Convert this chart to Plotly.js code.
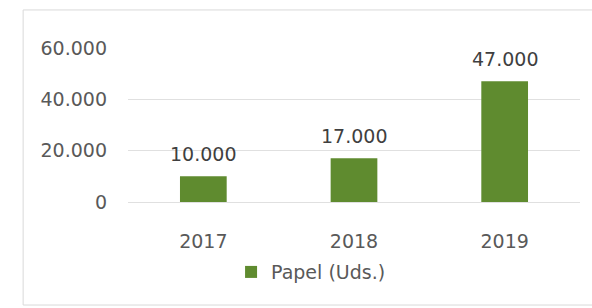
<!DOCTYPE html>
<html>
<head>
<meta charset="utf-8">
<script src="https://cdn.plot.ly/plotly-3.0.1.min.js"></script>
<style>html,body{margin:0;padding:0;background:#fff;}#chart{width:592px;height:308px;}</style>
</head>
<body>
<div id="chart"></div>
<script>
const categories = ["2017", "2018", "2019"];
const papelValues = [10000, 17000, 47000];
const seriesName = "Papel (Uds.)";
const yTickValues = [0, 20000, 40000, 60000];

function fmt(v) {
  return String(v).replace(/\B(?=(\d{3})+(?!\d))/g, ".");
}

const trace = {
  type: "bar",
  x: categories,
  y: papelValues,
  name: seriesName,
  marker: { color: "#5f8b2f" },
  hoverinfo: "none",
  showlegend: true
};

const labelAnnotations = [];
for (let i = 0; i < categories.length; i++) {
  labelAnnotations.push({
    x: i,
    y: papelValues[i],
    xref: "x",
    yref: "y",
    text: fmt(papelValues[i]),
    showarrow: false,
    xanchor: "center",
    yanchor: "bottom",
    yshift: 9,
    font: { family: "DejaVu Sans", size: 19, color: "#3f3f3f" }
  });
}

const layout = {
  width: 592,
  height: 308,
  separators: ",.",
  margin: { l: 128, r: 12, t: 48, b: 106 },
  paper_bgcolor: "#ffffff",
  plot_bgcolor: "#ffffff",
  font: { family: "DejaVu Sans", size: 19, color: "#595959" },
  bargap: 0.69,
  xaxis: {
    type: "category",
    range: [-0.5, 2.5],
    showgrid: false,
    showline: false,
    zeroline: false,
    ticks: "",
    ticklabelstandoff: 26,
    tickfont: { family: "DejaVu Sans", size: 19, color: "#595959" },
    fixedrange: true
  },
  yaxis: {
    range: [0, 60000],
    tickvals: yTickValues,
    tickformat: ",.0f",
    showgrid: true,
    gridcolor: "#e0e0e0",
    gridwidth: 1,
    zeroline: true,
    zerolinecolor: "#e0e0e0",
    zerolinewidth: 1,
    showline: false,
    ticks: "",
    ticklabelstandoff: 20,
    tickfont: { family: "DejaVu Sans", size: 19, color: "#595959" },
    fixedrange: true
  },
  showlegend: true,
  legend: {
    orientation: "h",
    x: 0.405,
    xanchor: "center",
    y: -0.455,
    yanchor: "middle",
    font: { family: "DejaVu Sans", size: 19, color: "#595959" },
    itemwidth: 30,
    bgcolor: "rgba(0,0,0,0)"
  },
  annotations: labelAnnotations,
  shapes: [{
    type: "rect",
    xref: "paper", yref: "paper",
    x0: -0.232, x1: 1.2,
    y0: -0.669, y1: 1.247,
    line: { color: "#d9d9d9", width: 1 },
    fillcolor: "rgba(0,0,0,0)",
    layer: "below"
  }]
};

Plotly.newPlot("chart", [trace], layout, { displayModeBar: false, staticPlot: true });
</script>
</body>
</html>
